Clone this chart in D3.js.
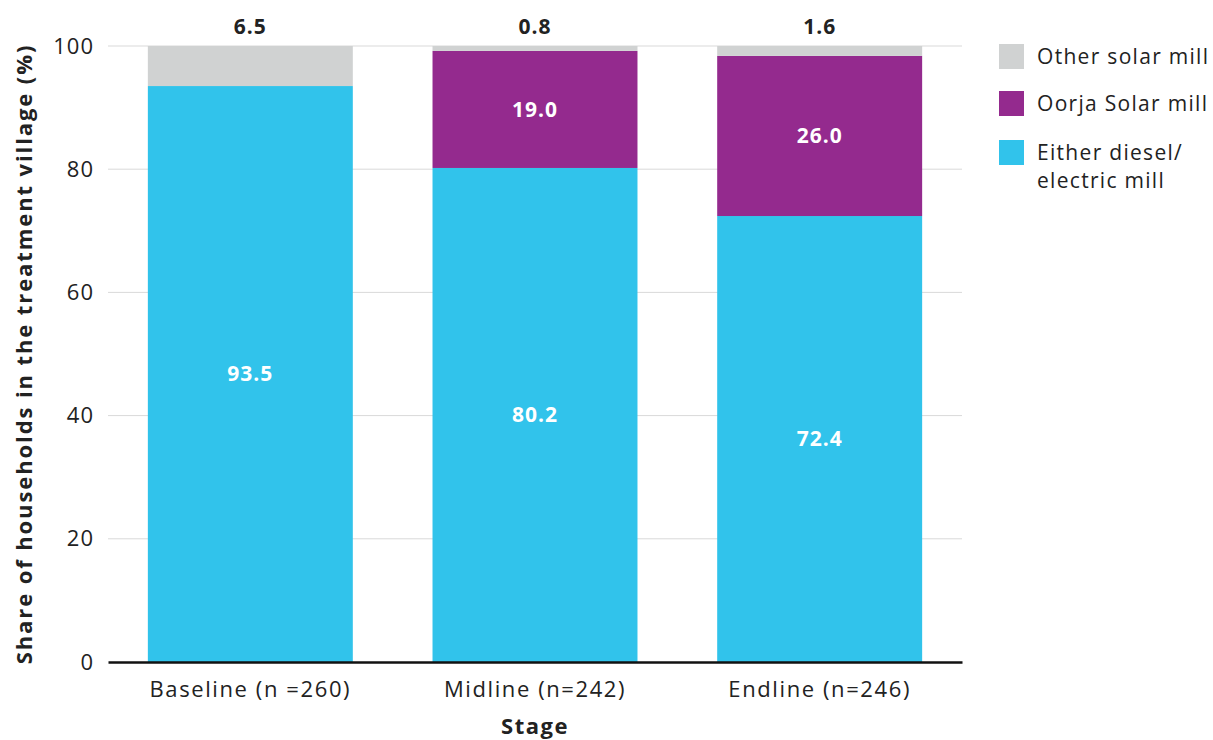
<!DOCTYPE html>
<html><head><meta charset="utf-8">
<script src="https://cdn.jsdelivr.net/npm/d3@7"></script>
<style>
body{margin:0;background:#fff;}
text{font-family:"Open Sans",sans-serif;}
</style></head>
<body><svg id="c" width="1213" height="740"></svg>
<script>
const stages = ["Baseline (n =260)", "Midline (n=242)", "Endline (n=246)"];
const dieselElectric = [93.5, 80.2, 72.4];
const oorjaSolar = [0, 19.0, 26.0];
const otherSolar = [6.5, 0.8, 1.6];
const seriesNames = ["Either diesel/\nelectric mill", "Oorja Solar mill", "Other solar mill"];
const seriesColors = ["#31c3eb", "#942a8e", "#d0d2d2"];
const yTicks = [0, 20, 40, 60, 80, 100];

const FONT = "'Open Sans',sans-serif";
const svg = d3.select("#c");
const m = {l:108, r:962, t:46, b:662};
const x = d3.scaleBand().domain(stages).range([m.l, m.r]).paddingInner(0.28).paddingOuter(0.14);
const y = d3.scaleLinear().domain([0,100]).range([m.b, m.t]);

const rows = stages.map((s,i)=>({stage:s, d:dieselElectric[i], o:oorjaSolar[i], g:otherSolar[i]}));
const stack = d3.stack().keys(["d","o","g"])(rows);

svg.append("g").selectAll("line").data(yTicks.filter(t=>t>0)).join("line")
  .attr("x1", m.l).attr("x2", m.r).attr("y1", d=>y(d)).attr("y2", d=>y(d))
  .attr("stroke", "#d9d9d9").attr("stroke-width", 1);

const layers = svg.append("g").selectAll("g").data(stack).join("g")
  .attr("fill", (d,i)=>seriesColors[i]);
layers.selectAll("rect").data(d=>d).join("rect")
  .attr("x", d=>x(d.data.stage)).attr("width", x.bandwidth())
  .attr("y", d=>y(d[1])).attr("height", d=>y(d[0])-y(d[1]));

stack.slice(0,2).forEach((layer,li)=>{
  svg.append("g").selectAll("text").data(layer.filter(d=>d[1]-d[0]>0)).join("text")
    .attr("x", d=>x(d.data.stage)+x.bandwidth()/2)
    .attr("y", d=>(y(d[0])+y(d[1]))/2)
    .attr("dy","0.35em").attr("text-anchor","middle")
    .attr("fill","#fff").attr("font-weight","bold").attr("font-size",21).attr("letter-spacing",1)
    .text(d=>(d[1]-d[0]).toFixed(1));
});
svg.append("g").selectAll("text").data(rows).join("text")
  .attr("x", d=>x(d.stage)+x.bandwidth()/2).attr("y", 27)
  .attr("dy","0.35em").attr("text-anchor","middle")
  .attr("fill","#222").attr("font-weight","bold").attr("font-size",21).attr("letter-spacing",1)
  .text(d=>d.g.toFixed(1));

const ya = svg.append("g").attr("transform",`translate(${m.l},0)`)
  .call(d3.axisLeft(y).tickValues(yTicks).tickSize(0).tickPadding(14));
ya.select(".domain").remove();
ya.selectAll("text").attr("font-size",22).attr("fill","#222").attr("font-family",FONT).attr("letter-spacing",1);

const xa = svg.append("g").attr("transform",`translate(0,${m.b})`)
  .call(d3.axisBottom(x).tickSize(0).tickPadding(19));
xa.select(".domain").attr("stroke","#111").attr("stroke-width",2.5);
xa.selectAll("text").attr("font-size",22).attr("fill","#222").attr("font-family",FONT).attr("letter-spacing",1.6);

svg.append("text").attr("transform",`translate(32,${(m.t+m.b)/2}) rotate(-90)`)
  .attr("text-anchor","middle").attr("font-weight","bold").attr("font-size",22).attr("fill","#222")
  .attr("letter-spacing",1.9)
  .text("Share of households in the treatment village (%)");
svg.append("text").attr("x",(m.l+m.r)/2).attr("y",734)
  .attr("text-anchor","middle").attr("font-weight","bold").attr("font-size",22).attr("fill","#222")
  .attr("letter-spacing",1.5)
  .text("Stage");

const legOrder = [2,1,0];
const legY = [44, 91, 140];
const lg = svg.append("g");
legOrder.forEach((si,k)=>{
  lg.append("rect").attr("x",999).attr("y",legY[k]).attr("width",25).attr("height",25).attr("fill",seriesColors[si]);
  const t = lg.append("text").attr("x",1037).attr("y",legY[k]+12.5)
    .attr("font-size",21).attr("fill","#222").attr("letter-spacing",1.3);
  seriesNames[si].split("\n").forEach((ln,j)=>{
    t.append("tspan").attr("x",1037).attr("dy", j===0?"0.35em":"28px").text(ln);
  });
});
</script></body></html>
